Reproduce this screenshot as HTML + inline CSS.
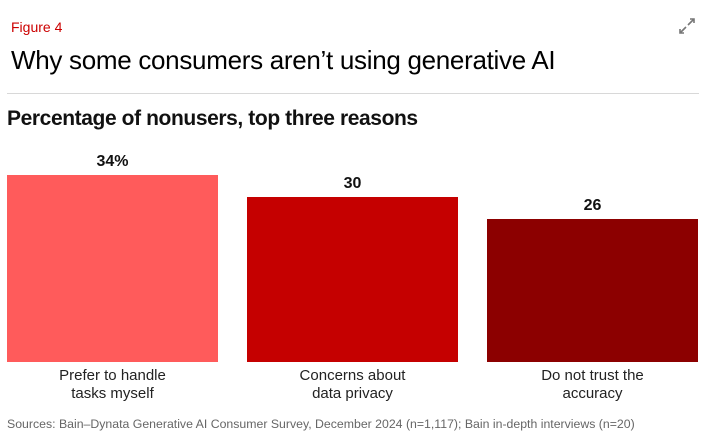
<!DOCTYPE html>
<html><head><meta charset="utf-8"><style>
body{margin:0;width:708px;height:444px;background:#fff;font-family:"Liberation Sans",sans-serif;position:relative;overflow:hidden}
.a{position:absolute;white-space:nowrap}
</style></head><body>
<div class="a" style="left:11px;top:19px;font-size:14px;color:#cc0000">Figure 4</div>
<svg class="a" style="left:678px;top:17px" width="18" height="18" viewBox="0 0 18 18"><path d="M10 8L16 2M12 2H16V6M8 10L2 16M2 12V16H6" stroke="#777" stroke-width="1.6" fill="none"/></svg>
<div class="a" style="left:11px;top:45px;font-size:26px;color:#000;letter-spacing:-0.3px">Why some consumers aren’t using generative AI</div>
<div class="a" style="left:7px;top:93px;width:692px;height:1px;background:#d8d8d8"></div>
<div class="a" style="left:7px;top:107px;font-size:21px;font-weight:bold;color:#111;letter-spacing:-0.4px">Percentage of nonusers, top three reasons</div>
<svg class="a" id="chart" style="left:0;top:0" width="708" height="444"></svg>
<div class="a" style="left:7px;top:417px;font-size:12.3px;color:#666">Sources: Bain–Dynata Generative AI Consumer Survey, December 2024 (n=1,117); Bain in-depth interviews (n=20)</div>
<script>
const categories=[["Prefer to handle","tasks myself"],["Concerns about","data privacy"],["Do not trust the","accuracy"]];
const values=[34,30,26];
const valueLabels=["34%","30","26"];
const colors=["#ff5b5b","#c50000","#8c0000"];
const svg=document.getElementById('chart');
const NS="http://www.w3.org/2000/svg";
const base=362,scale=5.5,x0=7,bw=211,step=240;
function y(v){return base-v*scale;}
values.forEach((v,i)=>{
  const x=x0+i*step;
  const r=document.createElementNS(NS,'rect');
  r.setAttribute('x',x);r.setAttribute('y',y(v));r.setAttribute('width',bw);r.setAttribute('height',base-y(v));r.setAttribute('fill',colors[i]);
  
  
  svg.appendChild(r);
  const t=document.createElementNS(NS,'text');
  t.setAttribute('x',x+bw/2);t.setAttribute('y',y(v)-9);t.setAttribute('text-anchor','middle');
  t.setAttribute('font-size','16');t.setAttribute('font-weight','bold');t.setAttribute('fill','#111');
  t.textContent=valueLabels[i];
  
  
  svg.appendChild(t);
  categories[i].forEach((line,j)=>{
    const c=document.createElementNS(NS,'text');
    c.setAttribute('x',x+bw/2);c.setAttribute('y',380+j*18);c.setAttribute('text-anchor','middle');
    c.setAttribute('font-size','15');c.setAttribute('fill','#222');
    c.textContent=line;
    
    
    svg.appendChild(c);
  });
});
</script>
</body></html>
